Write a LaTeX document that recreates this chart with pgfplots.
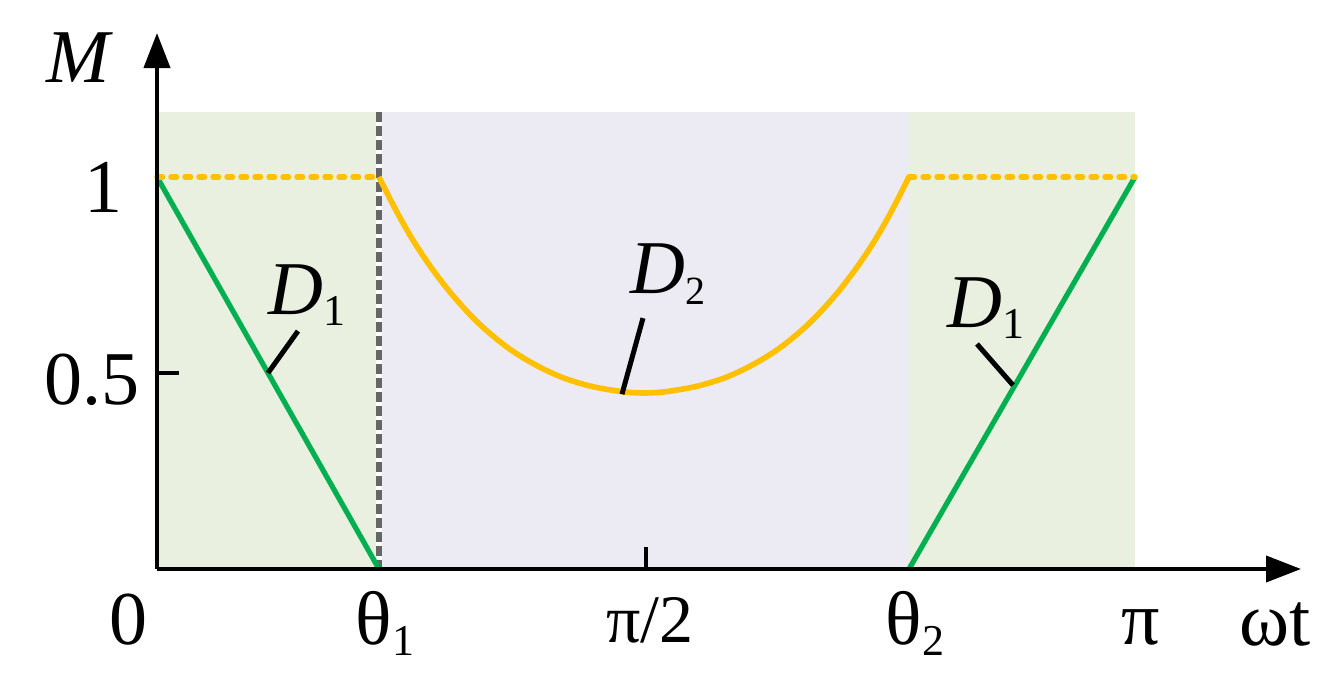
\documentclass[border=0pt]{standalone}
\usepackage{fontspec}
\setmainfont{Liberation Serif}
\usepackage{pgfplots}
\pgfplotsset{compat=1.18}
\usepackage{pgfplotstable}
\usetikzlibrary{arrows.meta}
\definecolor{gline}{HTML}{00B050}
\definecolor{yline}{HTML}{FFC000}
\definecolor{gbg}{HTML}{E9F0DF}
\definecolor{pbg}{HTML}{ECEAF2}
\newcommand{\bigf}{\fontsize{38}{40}\selectfont}
\newcommand{\subf}{\fontsize{22}{22}\selectfont}
\newcommand{\sub}[1]{\raisebox{-5.5pt}{\subf #1}}

% D2 curve (omega t in rad, M)
\pgfplotstableread{
x y
0.7131 1.000
0.7677 0.915
0.8191 0.843
0.8737 0.777
0.9284 0.719
0.9798 0.671
1.0344 0.626
1.0890 0.588
1.1404 0.557
1.1950 0.530
1.2496 0.507
1.3010 0.489
1.3492 0.476
1.4006 0.465
1.4552 0.457
1.5098 0.451
1.5644 0.449
1.6190 0.451
1.6736 0.457
1.7282 0.465
1.7796 0.476
1.8278 0.489
1.8792 0.507
1.9338 0.530
1.9884 0.557
2.0398 0.588
2.0944 0.626
2.1490 0.671
2.2004 0.719
2.2550 0.777
2.3096 0.843
2.3610 0.915
2.4157 1.000
}\curveD

\begin{document}
\begin{tikzpicture}
\begin{axis}[
  x=155.65pt, y=196pt,
  xmin=0, xmax=3.6749, ymin=0, ymax=1.3673,
  enlargelimits=false,
  axis lines=left,
  axis line style={line width=2pt, -{Triangle[length=17.5pt,width=13pt]}},
  axis on top,
  clip=false,
  no marks,
  xtick={1.5708}, xticklabels={{\fontsize{34}{34}\selectfont π/2}},
  ytick={0.5}, yticklabels={0.5},
  tick style={black, line width=2.2pt},
  major tick length=11pt,
  tick align=inside,
  xticklabel style={anchor=base, inner sep=0pt, yshift=-36.5pt, xshift=2pt, font=\bigf},
  yticklabel style={anchor=base, inner sep=0pt, xshift=-32.5pt, yshift=-15.5pt, font=\bigf},
  extra x ticks={0.7131,2.4157,3.1416},
  extra x tick labels={θ\sub{1}, θ\sub{2}, π},
  extra x tick style={major tick length=0pt, xticklabel style={yshift=-1pt, xshift=1pt}},
  extra y ticks={1},
  extra y tick labels={1},
  extra y tick style={major tick length=0pt, yticklabel style={xshift=6pt, yshift=-2.5pt}},
  xlabel={ωt},
  xlabel style={at={(axis description cs:0.9773,-0.1418)}, anchor=base, inner sep=0pt, font=\bigf},
  ylabel={\textit{M}},
  ylabel style={rotate=-90, at={(axis description cs:-0.0673,0.9068)}, anchor=base, inner sep=0pt, font=\bigf},
]
% page extent
\path (axis cs:-0.5043,-0.3163) rectangle (axis cs:3.8066,1.4515);
% shaded regions
\addplot[draw=none, fill=gbg] coordinates {(0,0) (0,1.166) (0.7131,1.166) (0.7131,0)} -- cycle;
\addplot[draw=none, fill=pbg] coordinates {(0.7131,0) (0.7131,1.166) (2.4157,1.166) (2.4157,0)} -- cycle;
\addplot[draw=none, fill=gbg] coordinates {(2.4157,0) (2.4157,1.166) (3.1416,1.166) (3.1416,0)} -- cycle;
% theta1 dotted marker
\addplot[white, line width=2.6pt] coordinates {(0.7131,0) (0.7131,1.166)};
\addplot[black!60, line width=2.6pt, dash pattern=on 5pt off 2pt] coordinates {(0.7131,1.166) (0.7131,0)};
% D1 lines
\addplot[gline, line width=2.6pt] coordinates {(0,1) (0.7131,0)};
\addplot[gline, line width=2.6pt] coordinates {(2.4157,0) (3.1416,1)};
% dotted M=1 segments
\addplot[yline, line width=2.7pt, line cap=round, dash pattern=on 2.8pt off 4.2pt] coordinates {(0,1) (0.7131,1)};
\addplot[yline, line width=2.7pt, line cap=round, dash pattern=on 2.8pt off 4.2pt] coordinates {(2.4157,1) (3.1416,1)};
% D2 curve
\addplot[yline, line width=2.8pt, smooth, tension=0.55] table[x=x,y=y]{\curveD};
% leaders
\draw[line width=2.5pt] (axis cs:0.3566,0.5) -- (axis cs:0.4529,0.607);
\draw[line width=2.5pt] (axis cs:2.7497,0.469) -- (axis cs:2.634,0.574);
\draw[line width=2.5pt] (axis cs:1.4937,0.446) -- (axis cs:1.5612,0.640);
% labels
\node[anchor=base west, inner sep=0pt, font=\bigf] at (axis cs:0.3566,0.648) {\textit{D}\sub{1}};
\node[anchor=base west, inner sep=0pt, font=\bigf] at (axis cs:2.5377,0.617) {\textit{D}\sub{1}};
\node[anchor=base west, inner sep=0pt, font=\bigf] at (axis cs:1.5194,0.704) {\textit{D}\raisebox{-5.5pt}{\fontsize{20}{20}\selectfont 2}};
\node[anchor=base, inner sep=0pt, font=\bigf, xshift=-14pt, yshift=-37.5pt] at (axis cs:0,0) {0};
\end{axis}
\end{tikzpicture}
\end{document}
